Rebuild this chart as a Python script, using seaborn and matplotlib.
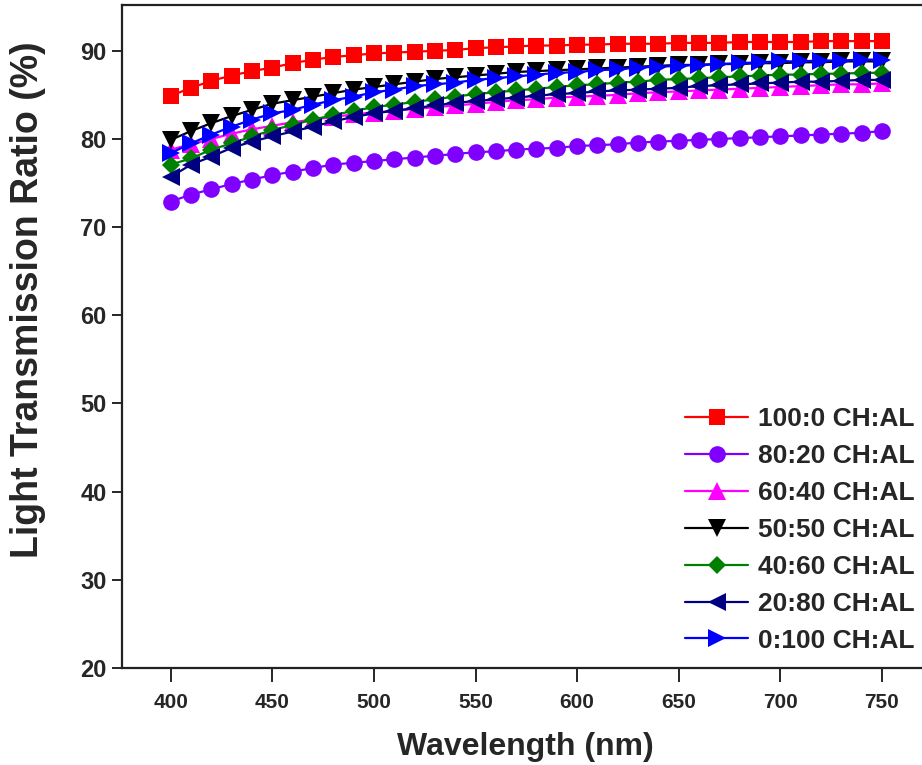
import numpy as np
import pandas as pd
import matplotlib
matplotlib.use("Agg")
import matplotlib.pyplot as plt
import seaborn as sns

wavelength = list(range(400, 751, 10))

series_names = ["100:0 CH:AL", "80:20 CH:AL", "60:40 CH:AL", "50:50 CH:AL",
                "40:60 CH:AL", "20:80 CH:AL", "0:100 CH:AL"]

t_100_0 = [84.9, 85.8, 86.6, 87.2, 87.7, 88.1, 88.6, 89.0, 89.3, 89.5, 89.7, 89.8,
           89.9, 90.0, 90.1, 90.3, 90.4, 90.5, 90.6, 90.6, 90.7, 90.7, 90.8, 90.8,
           90.8, 90.9, 90.9, 90.9, 91.0, 91.0, 91.0, 91.0, 91.1, 91.1, 91.1, 91.1]
t_80_20 = [72.9, 73.7, 74.3, 74.9, 75.4, 75.9, 76.3, 76.7, 77.1, 77.3, 77.5, 77.7,
           77.9, 78.1, 78.3, 78.5, 78.6, 78.8, 78.9, 79.0, 79.2, 79.3, 79.4, 79.6,
           79.7, 79.8, 79.9, 80.0, 80.1, 80.2, 80.3, 80.4, 80.5, 80.6, 80.7, 80.9]
t_60_40 = [78.8, 79.4, 80.0, 80.6, 81.1, 81.5, 81.9, 82.2, 82.5, 82.8, 83.0, 83.2,
           83.4, 83.6, 83.8, 84.0, 84.2, 84.4, 84.5, 84.7, 84.8, 84.9, 85.0, 85.2,
           85.3, 85.4, 85.5, 85.6, 85.7, 85.8, 85.9, 86.0, 86.1, 86.2, 86.2, 86.3]
t_50_50 = [79.9, 80.9, 81.8, 82.6, 83.3, 84.0, 84.4, 84.8, 85.2, 85.6, 85.9, 86.2,
           86.5, 86.8, 87.0, 87.2, 87.4, 87.6, 87.7, 87.8, 87.9, 88.0, 88.1, 88.2,
           88.3, 88.4, 88.4, 88.5, 88.5, 88.6, 88.6, 88.7, 88.7, 88.8, 88.8, 88.8]
t_40_60 = [77.1, 77.8, 78.8, 79.5, 80.3, 81.0, 81.6, 82.2, 82.7, 83.2, 83.6, 83.9,
           84.2, 84.5, 84.8, 85.1, 85.3, 85.5, 85.7, 85.9, 86.1, 86.2, 86.4, 86.5,
           86.7, 86.8, 86.9, 87.0, 87.1, 87.2, 87.3, 87.3, 87.4, 87.4, 87.5, 87.5]
t_20_80 = [75.7, 77.1, 78.0, 79.0, 79.7, 80.3, 80.85, 81.4, 82.0, 82.5, 82.9, 83.2,
           83.5, 83.8, 84.1, 84.3, 84.5, 84.7, 84.9, 85.1, 85.2, 85.4, 85.5, 85.6,
           85.7, 85.8, 86.0, 86.1, 86.2, 86.3, 86.4, 86.5, 86.5, 86.6, 86.7, 86.7]
t_0_100 = [78.4, 79.5, 80.5, 81.4, 82.2, 82.9, 83.3, 83.9, 84.4, 84.8, 85.3, 85.6,
           86.0, 86.2, 86.4, 86.7, 86.9, 87.1, 87.3, 87.5, 87.6, 87.8, 87.9, 88.1,
           88.2, 88.3, 88.4, 88.5, 88.6, 88.7, 88.8, 88.8, 88.9, 88.9, 89.0, 89.0]

all_values = [t_100_0, t_80_20, t_60_40, t_50_50, t_40_60, t_20_80, t_0_100]

colors = ["#FF0000", "#7F00FF", "#FF00FF", "#000000", "#008000", "#000080", "#0000FF"]
markers = ["s", "o", "^", "v", "D", "<", ">"]
msizes = [11.5, 12, 13, 13, 9, 13, 13]

x_ticks = [400, 450, 500, 550, 600, 650, 700, 750]
y_ticks = [20, 30, 40, 50, 60, 70, 80, 90]

rows = []
for name, vals in zip(series_names, all_values):
    for w, v in zip(wavelength, vals):
        rows.append({"Wavelength": w, "Transmission": v, "Sample": name})
df = pd.DataFrame(rows)

sns.set_style("ticks")
plt.rcParams["font.family"] = ["Liberation Sans", "DejaVu Sans"]
plt.rcParams["font.weight"] = "bold"

fig = plt.figure(figsize=(9.22, 7.65), dpi=100)
ax = fig.add_axes([0.1323, 0.1268, 0.8793, 0.8667])

for name, c, m, ms in zip(series_names, colors, markers, msizes):
    sub = df[df["Sample"] == name]
    sns.lineplot(data=sub, x="Wavelength", y="Transmission", ax=ax, color=c,
                 marker=m, markersize=ms, markeredgewidth=0, linewidth=1.6,
                 label=name, estimator=None, sort=False)

ax.set_xlim(376, 775)
ax.set_ylim(20, 95.2)
ax.set_xticks(x_ticks)
ax.set_yticks(y_ticks)
ax.tick_params(axis="x", direction="out", length=10, width=1.4, labelsize=15, pad=8)
ax.tick_params(axis="y", direction="out", length=7, width=1.4, labelsize=17, pad=4)
for lab in ax.get_xticklabels() + ax.get_yticklabels():
    lab.set_fontweight("bold")
for s in ["left", "bottom", "top", "right"]:
    ax.spines[s].set_visible(True)
    ax.spines[s].set_linewidth(1.6)
    ax.spines[s].set_color("#222222")

ax.set_xlabel("Wavelength (nm)", fontsize=23, fontweight="bold")
ax.set_ylabel("Light Transmission Ratio (%)", fontsize=27, fontweight="bold")
ax.xaxis.set_label_coords(0.497, -0.097)
ax.yaxis.set_label_coords(-0.094, 0.555)

leg = ax.legend(loc="lower right", bbox_to_anchor=(1.003, 0.133), bbox_transform=fig.transFigure,
                frameon=False, prop={"size": 19, "weight": "bold"},
                handlelength=2.4, handletextpad=0.35, labelspacing=0.49, borderaxespad=0.0)

fig.savefig("out.png", dpi=100)
